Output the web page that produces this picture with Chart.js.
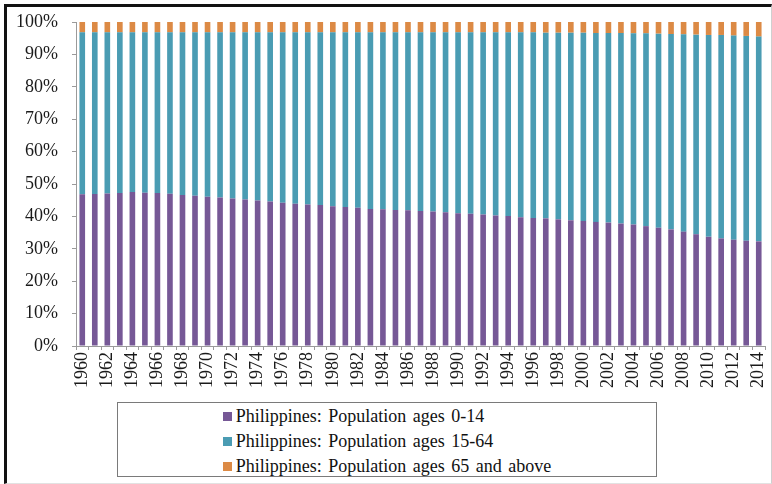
<!DOCTYPE html>
<html>
<head>
<meta charset="utf-8">
<script src="https://cdn.jsdelivr.net/npm/chart.js@4/dist/chart.umd.min.js"></script>
<style>
    body { margin: 0; background: #ffffff; }
    #wrap { position: relative; width: 772px; height: 484px; overflow: hidden; background: #ffffff; }
    #chart { position: absolute; left: 0; top: 0; }
    #frame {
        position: absolute; left: 4px; top: 4px; width: 764px; height: 476px;
        border-left: 3px solid #111; border-top: 3px solid #111;
        border-right: 1px solid #cfcfcf; border-bottom: 1px solid #e2e2e2;
        pointer-events: none;
    }
    #legend {
        position: absolute; left: 117px; top: 402px; width: 538px; height: 73px;
        border: 1px solid #7a7a7a; text-align: center;
        font-family: "Liberation Serif", "DejaVu Serif", serif; font-size: 18px; color: #111;
        word-spacing: 2px;
    }
    #legend .items { display: inline-block; text-align: left; margin-top: 1px; }
    #legend .item { height: 25px; line-height: 25px; white-space: nowrap; }
    #legend .swatch { display: inline-block; width: 9px; height: 9px; margin-right: 4px; vertical-align: 1px; }
</style>
</head>
<body>
<div id="wrap">
    <canvas id="chart" width="772" height="400"></canvas>
    <div id="legend"></div>
    <div id="frame"></div>
</div>
<script>
// Years on the category axis
const years = [
    1960, 1961, 1962, 1963, 1964, 1965, 1966, 1967, 1968, 1969,
    1970, 1971, 1972, 1973, 1974, 1975, 1976, 1977, 1978, 1979,
    1980, 1981, 1982, 1983, 1984, 1985, 1986, 1987, 1988, 1989,
    1990, 1991, 1992, 1993, 1994, 1995, 1996, 1997, 1998, 1999,
    2000, 2001, 2002, 2003, 2004, 2005, 2006, 2007, 2008, 2009,
    2010, 2011, 2012, 2013, 2014
];

// Share of population (%)
const ages0to14 = [
    46.8, 46.9, 47.1, 47.2, 47.5, 47.3, 47.2, 47.0, 46.6, 46.4,
    46.1, 45.8, 45.5, 45.2, 44.9, 44.6, 44.2, 43.9, 43.7, 43.5,
    43.1, 42.9, 42.7, 42.3, 42.2, 42.0, 41.9, 41.7, 41.5, 41.3,
    41.0, 40.8, 40.6, 40.3, 40.1, 39.7, 39.5, 39.4, 39.1, 38.8,
    38.6, 38.3, 38.1, 37.8, 37.5, 37.0, 36.5, 36.0, 35.3, 34.5,
    33.7, 33.2, 32.8, 32.5, 32.3
];
const ages15to64 = [
    50.0, 49.9, 49.7, 49.6, 49.3, 49.5, 49.6, 49.8, 50.2, 50.4,
    50.7, 51.0, 51.3, 51.6, 51.9, 52.2, 52.6, 52.9, 53.1, 53.3,
    53.7, 53.9, 54.1, 54.5, 54.6, 54.8, 54.9, 55.1, 55.3, 55.5,
    55.8, 56.0, 56.2, 56.5, 56.7, 57.1, 57.3, 57.3, 57.6, 57.9,
    58.1, 58.3, 58.5, 58.8, 59.0, 59.5, 59.9, 60.3, 60.9, 61.6,
    62.3, 62.8, 63.0, 63.2, 63.2
];
const ages65up = [
    3.2, 3.2, 3.2, 3.2, 3.2, 3.2, 3.2, 3.2, 3.2, 3.2,
    3.2, 3.2, 3.2, 3.2, 3.2, 3.2, 3.2, 3.2, 3.2, 3.2,
    3.2, 3.2, 3.2, 3.2, 3.2, 3.2, 3.2, 3.2, 3.2, 3.2,
    3.2, 3.2, 3.2, 3.2, 3.2, 3.2, 3.2, 3.3, 3.3, 3.3,
    3.3, 3.4, 3.4, 3.4, 3.5, 3.5, 3.6, 3.7, 3.8, 3.9,
    4.0, 4.0, 4.2, 4.3, 4.5
];

const seriesNames = [
    'Philippines: Population ages 0-14',
    'Philippines: Population ages 15-64',
    'Philippines: Population ages 65 and above'
];
const seriesColors = ['#765896', '#4a9cb3', '#dc8a45'];

const tickFont = { family: '"Liberation Serif", "DejaVu Serif", serif', size: 18 };

const ctx = document.getElementById('chart').getContext('2d');
const chart = new Chart(ctx, {
    type: 'bar',
    data: {
        labels: years.map(String),
        datasets: [ages0to14, ages15to64, ages65up].map((values, i) => ({
            label: seriesNames[i],
            data: values,
            backgroundColor: seriesColors[i],
            borderWidth: 0,
            barPercentage: 0.45,
            categoryPercentage: 1
        }))
    },
    options: {
        responsive: false,
        animation: false,
        layout: {
            padding: { top: 22, right: 7, left: 0, bottom: 0 }
        },
        plugins: {
            legend: { display: false },
            tooltip: { enabled: false }
        },
        scales: {
            x: {
                stacked: true,
                afterFit: scale => {
                    scale.height = 54;
                    scale.paddingLeft = 0;
                    scale.paddingRight = 0;
                },
                border: { color: '#9a9a9a', width: 1 },
                grid: {
                    offset: true,
                    drawOnChartArea: false,
                    tickLength: 4,
                    color: '#9a9a9a'
                },
                ticks: {
                    autoSkip: false,
                    minRotation: 90,
                    maxRotation: 90,
                    padding: 2,
                    color: '#1a1a1a',
                    font: tickFont,
                    callback: (value, index) => (index % 2 === 0 ? years[index] : '')
                }
            },
            y: {
                stacked: true,
                min: 0,
                max: 100,
                afterFit: scale => {
                    scale.width = 76;
                    scale.paddingTop = 0;
                    scale.paddingBottom = 0;
                },
                border: { color: '#9a9a9a', width: 1 },
                grid: {
                    drawOnChartArea: false,
                    tickLength: 4,
                    color: '#9a9a9a'
                },
                ticks: {
                    stepSize: 10,
                    padding: 14,
                    color: '#1a1a1a',
                    font: tickFont,
                    callback: value => value + '%'
                }
            }
        }
    }
});

// Legend drawn as a boxed list below the chart
const legendBox = document.getElementById('legend');
const list = document.createElement('div');
list.className = 'items';
chart.data.datasets.forEach(ds => {
    const row = document.createElement('div');
    row.className = 'item';
    const swatch = document.createElement('span');
    swatch.className = 'swatch';
    swatch.style.background = ds.backgroundColor;
    row.appendChild(swatch);
    row.appendChild(document.createTextNode(ds.label));
    list.appendChild(row);
});
legendBox.appendChild(list);
</script>
</body>
</html>
